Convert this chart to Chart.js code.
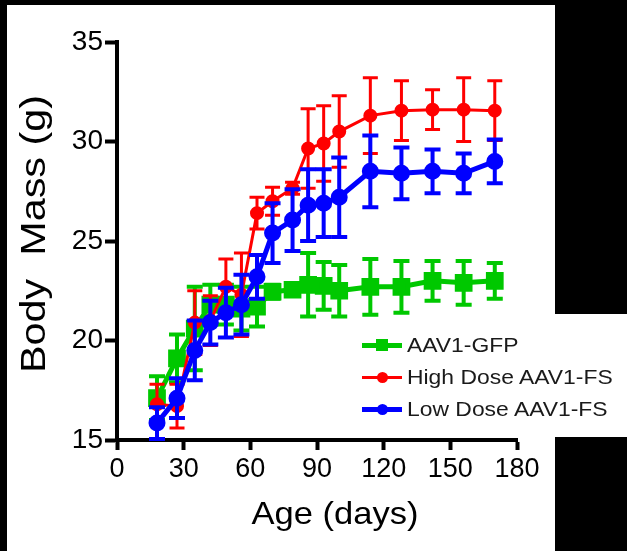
<!DOCTYPE html>
<html>
<head>
<meta charset="utf-8">
<script src="https://cdn.jsdelivr.net/npm/chart.js@4.4.0/dist/chart.umd.min.js"></script>
<style>
  html, body { margin: 0; padding: 0; background: #000; }
  #stage { position: relative; width: 627px; height: 551px; overflow: hidden; background: #000; }
  .paper { position: absolute; background: #fff; }
  #chart { position: absolute; left: 0; top: 0; }
  .legend-row { position: absolute; left: 362px; height: 22px; font-family: "Liberation Sans", Arial, sans-serif; font-size: 21px; line-height: 22px; color: #1a1a1a; white-space: nowrap; }
  .legend-row .ln { position: absolute; left: 0; width: 40px; }
  .legend-row .mk { position: absolute; }
  .legend-row span { position: absolute; left: 45px; top: 0; transform: scaleX(1.09); transform-origin: 0 50%; }
</style>
</head>
<body>
<div id="stage">
  <div class="paper" style="left:7px;top:5px;width:548px;height:546px"></div>
  <div class="paper" style="left:555px;top:314px;width:72px;height:123px"></div>
  <canvas id="chart" width="627" height="551"></canvas>
  <div id="legend"></div>
</div>
<script>
// ages (days) of each weighing
const days = [18, 27, 35, 42, 49, 56, 63, 70, 79, 86, 93, 100, 114, 128, 142, 156, 170];

// body mass means and error (g)
const gfpMean  = [17.1, 19.1, 20.6, 21.8, 21.8, 21.6, 21.7, 22.45, 22.55, 22.8, 22.75, 22.5, 22.7, 22.7, 23.0, 22.9, 23.0];
const gfpErr   = [1.1, 1.2, 2.1, 1.0, 1.0, 1.1, 1.0, 0.35, 0.2, 1.6, 1.2, 1.3, 1.4, 1.3, 1.0, 1.1, 0.9];
const highMean = [16.8, 16.7, 20.9, 21.0, 22.7, 22.3, 26.4, 27.0, 27.65, 29.65, 29.9, 30.5, 31.3, 31.55, 31.6, 31.6, 31.55];
const highErr  = [1.0, 1.1, 1.6, 1.25, 1.4, 2.1, 0.8, 0.7, 0.3, 2.0, 1.9, 1.8, 1.9, 1.5, 1.0, 1.6, 1.5];
const lowMean  = [15.85, 17.1, 19.5, 20.9, 21.4, 21.8, 23.2, 25.4, 26.05, 26.8, 26.9, 27.2, 28.5, 28.4, 28.5, 28.4, 29.0];
const lowErr   = [0.8, 1.0, 1.5, 1.1, 1.25, 1.5, 1.1, 1.5, 1.55, 1.8, 1.7, 2.0, 1.8, 1.3, 1.1, 1.0, 1.1];

const seriesNames = ['AAV1-GFP', 'High Dose AAV1-FS', 'Low Dose AAV1-FS'];
const xTicks = [0, 30, 60, 90, 120, 150, 180];
const yTicks = [15, 20, 25, 30, 35];
const xTitle = 'Age (days)';
const yTitle = 'Body  Mass (g)';

const FONT = '"Liberation Sans", Arial, sans-serif';
const GREEN = '#00c800', RED = '#ff0000', BLUE = '#0000ff';

function pts(means){ return days.map((d, i) => ({ x: d, y: means[i] })); }

// error bars drawn under each dataset's own line
const errorBars = {
  id: 'errorBars',
  beforeDatasetDraw(chart, args){
    const ds = chart.data.datasets[args.index];
    if (!ds.err) return;
    const ys = chart.scales.y, ctx = chart.ctx;
    ctx.save();
    ctx.strokeStyle = ds.borderColor;
    ctx.lineWidth = ds.errWidth;
    ctx.lineCap = 'butt';
    args.meta.data.forEach((p, i) => {
      const v = ds.data[i].y, e = ds.err[i];
      const t = ys.getPixelForValue(v + e), b = ys.getPixelForValue(v - e);
      const c = ds.capHalf;
      ctx.beginPath();
      ctx.moveTo(p.x, t); ctx.lineTo(p.x, b);
      ctx.moveTo(p.x - c, t); ctx.lineTo(p.x + c, t);
      ctx.moveTo(p.x - c, b); ctx.lineTo(p.x + c, b);
      ctx.stroke();
    });
    ctx.restore();
  }
};

// axis titles, placed like the original figure
const axisTitles = {
  id: 'axisTitles',
  afterDraw(chart){
    const ctx = chart.ctx;
    ctx.save();
    ctx.fillStyle = '#000';
    ctx.textAlign = 'center';
    ctx.textBaseline = 'alphabetic';
    // x title
    ctx.font = '32px ' + FONT;
    let w = ctx.measureText(xTitle).width;
    ctx.translate(335, 524);
    ctx.scale(167 / w, 1);
    ctx.fillText(xTitle, 0, 0);
    ctx.restore();
    // y title
    ctx.save();
    ctx.fillStyle = '#000';
    ctx.textAlign = 'center';
    ctx.textBaseline = 'alphabetic';
    ctx.font = '35px ' + FONT;
    w = ctx.measureText(yTitle).width;
    ctx.translate(45, 234);
    ctx.rotate(-Math.PI / 2);
    ctx.scale(278 / w, 1);
    ctx.fillText(yTitle, 0, 0);
    ctx.restore();
  }
};

const chart = new Chart(document.getElementById('chart'), {
  type: 'line',
  data: {
    datasets: [
      { label: seriesNames[0], data: pts(gfpMean), err: gfpErr, borderColor: GREEN, backgroundColor: GREEN,
        borderWidth: 5, pointStyle: 'rect', pointRadius: 9, errWidth: 4, capHalf: 8, order: 3 },
      { label: seriesNames[1], data: pts(highMean), err: highErr, borderColor: RED, backgroundColor: RED,
        borderWidth: 3, pointStyle: 'circle', pointRadius: 5.5, errWidth: 3, capHalf: 7.5, order: 2 },
      { label: seriesNames[2], data: pts(lowMean), err: lowErr, borderColor: BLUE, backgroundColor: BLUE,
        borderWidth: 5, pointStyle: 'circle', pointRadius: 6, errWidth: 4, capHalf: 8, order: 1 }
    ]
  },
  options: {
    responsive: false,
    animation: false,
    devicePixelRatio: 1,
    clip: false,
    elements: { line: { tension: 0 }, point: { borderWidth: 0, hoverRadius: 6 } },
    layout: { padding: { left: 0, top: 42, right: 110, bottom: 0 } },
    plugins: { legend: { display: false }, tooltip: { enabled: false } },
    scales: {
      x: {
        type: 'linear', min: 0, max: 180,
        afterFit: s => { s.height = 111; },
        afterBuildTicks: s => { s.ticks = xTicks.map(v => ({ value: v })); },
        border: { display: true, color: '#000', width: 4 },
        grid: { drawOnChartArea: false, drawTicks: true, tickLength: 10, tickWidth: 4, tickColor: '#000' },
        ticks: { color: '#000', font: { family: FONT, size: 27 }, padding: 3, maxRotation: 0 }
      },
      y: {
        min: 15, max: 35,
        afterFit: s => { s.width = 117; },
        afterBuildTicks: s => { s.ticks = yTicks.map(v => ({ value: v })); },
        border: { display: true, color: '#000', width: 4 },
        grid: { drawOnChartArea: false, drawTicks: true, tickLength: 12, tickWidth: 4, tickColor: '#000' },
        ticks: { color: '#000', font: { family: FONT, size: 28 }, padding: 2 }
      }
    }
  },
  plugins: [errorBars, axisTitles]
});

// legend: line with marker, then label
function buildLegend(){
  const box = document.getElementById('legend');
  const rows = [
    { name: seriesNames[0], color: GREEN, lw: 5, shape: 'sq', y: 345 },
    { name: seriesNames[1], color: RED, lw: 3, shape: 'ci', y: 377 },
    { name: seriesNames[2], color: BLUE, lw: 5, shape: 'ci', y: 409 }
  ];
  rows.forEach(r => {
    const row = document.createElement('div');
    row.className = 'legend-row';
    row.style.top = (r.y - 11) + 'px';
    const ln = document.createElement('div');
    ln.className = 'ln';
    ln.style.top = (11 - r.lw / 2) + 'px';
    ln.style.height = r.lw + 'px';
    ln.style.background = r.color;
    const mk = document.createElement('div');
    mk.className = 'mk';
    const sz = r.shape === 'sq' ? 12 : 11;
    mk.style.width = sz + 'px'; mk.style.height = sz + 'px';
    mk.style.left = (20 - sz / 2) + 'px'; mk.style.top = (11 - sz / 2) + 'px';
    mk.style.background = r.color;
    if (r.shape === 'ci') mk.style.borderRadius = '50%';
    const sp = document.createElement('span');
    sp.textContent = r.name;
    row.appendChild(ln); row.appendChild(mk); row.appendChild(sp);
    box.appendChild(row);
  });
}
buildLegend();
</script>
</body>
</html>
